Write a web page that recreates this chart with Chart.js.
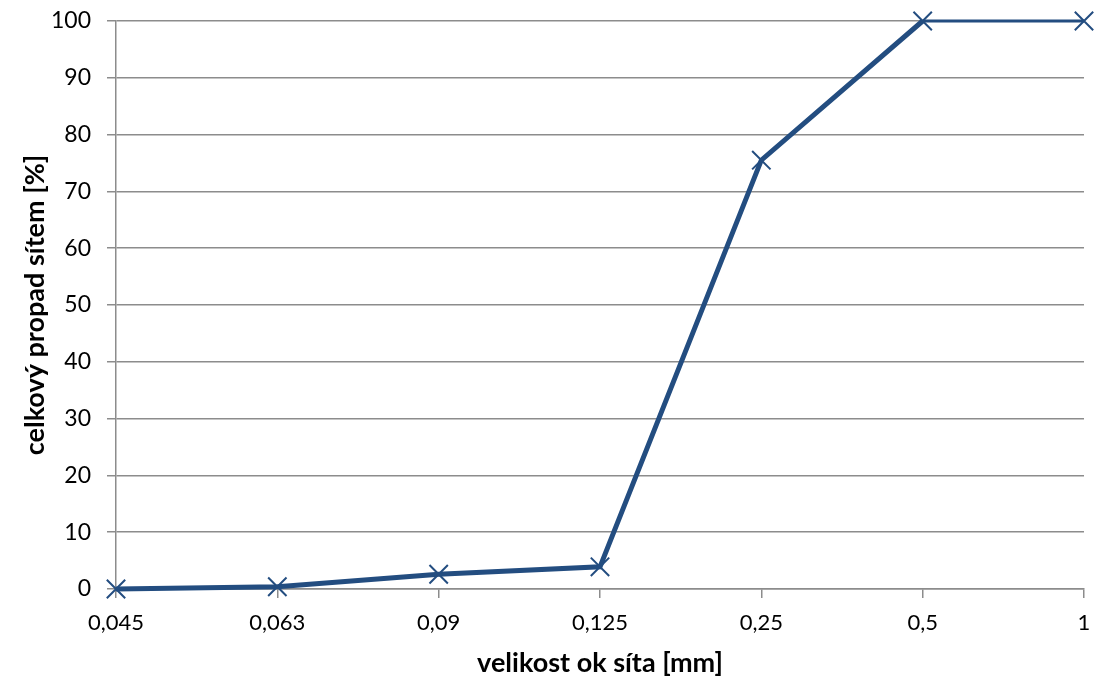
<!DOCTYPE html>
<html>
<head>
<meta charset="utf-8">
<script src="https://cdn.jsdelivr.net/npm/chart.js@4"></script>
<style>
  html, body { margin: 0; padding: 0; background: #fff; }
  #wrap { width: 1101px; height: 686px; }
</style>
</head>
<body>
<div id="wrap"><canvas id="chart-sito"></canvas></div>
<script>
const velikostOk = ["0,045", "0,063", "0,09", "0,125", "0,25", "0,5", "1"];
const propad = [0, 0.4, 2.6, 3.9, 75.5, 100, 100];
const yTicks = [0, 10, 20, 30, 40, 50, 60, 70, 80, 90, 100];

const fontName = "Lato, 'Liberation Sans', sans-serif";
const barva = "#234d80";

const ctx = document.getElementById("chart-sito");
new Chart(ctx, {
    type: "line",
    data: {
        labels: velikostOk,
        datasets: [
            {
                data: propad,
                borderColor: barva,
                backgroundColor: barva,
                borderWidth: 5,
                pointStyle: "crossRot",
                pointRadius: 13,
                pointBorderWidth: 2,
                pointBorderColor: barva,
                tension: 0,
                clip: false,
                segment: {
                    borderWidth: (c) => (c.p0DataIndex === 5 ? 3 : 5),
                },
            },
        ],
    },
    options: {
        responsive: true,
        maintainAspectRatio: false,
        animation: false,
        layout: { padding: { top: 21, right: 17, left: 0, bottom: 0 } },
        plugins: { legend: { display: false }, tooltip: { enabled: false } },
        scales: {
            x: {
                offset: false,
                grid: {
                    drawOnChartArea: false,
                    drawTicks: true,
                    tickLength: 9,
                    color: "#8c8c8c",
                    lineWidth: 1.5,
                },
                border: { color: "#8c8c8c", width: 1.5 },
                ticks: {
                    color: "#000",
                    font: { family: fontName, size: 22 },
                    padding: 12,
                    maxRotation: 0,
                },
                title: {
                    display: true,
                    text: "velikost ok síta [mm]",
                    color: "#000",
                    font: { family: fontName, size: 27, weight: "bold" },
                    padding: { top: 0, bottom: 7 },
                },
                afterFit: (s) => {
                    s.height = 97;
                    s.paddingLeft = 0;
                    s.paddingRight = 0;
                },
            },
            y: {
                min: 0,
                max: 100,
                afterBuildTicks: (s) => { s.ticks = yTicks.map((v) => ({ value: v })); },
                grid: {
                    color: "#8c8c8c",
                    lineWidth: 1.5,
                    tickLength: 9,
                },
                border: { color: "#8c8c8c", width: 1.5 },
                ticks: {
                    color: "#000",
                    font: { family: fontName, size: 23 },
                    padding: 16,
                },
                title: {
                    display: true,
                    text: "celkový propad sítem [%]",
                    color: "#000",
                    font: { family: fontName, size: 27, weight: "bold" },
                    padding: { top: 19, bottom: 0 },
                },
                afterFit: (s) => {
                    s.width = 116;
                    s.paddingTop = 0;
                    s.paddingBottom = 0;
                },
            },
        },
    },
});
</script>
</body>
</html>
